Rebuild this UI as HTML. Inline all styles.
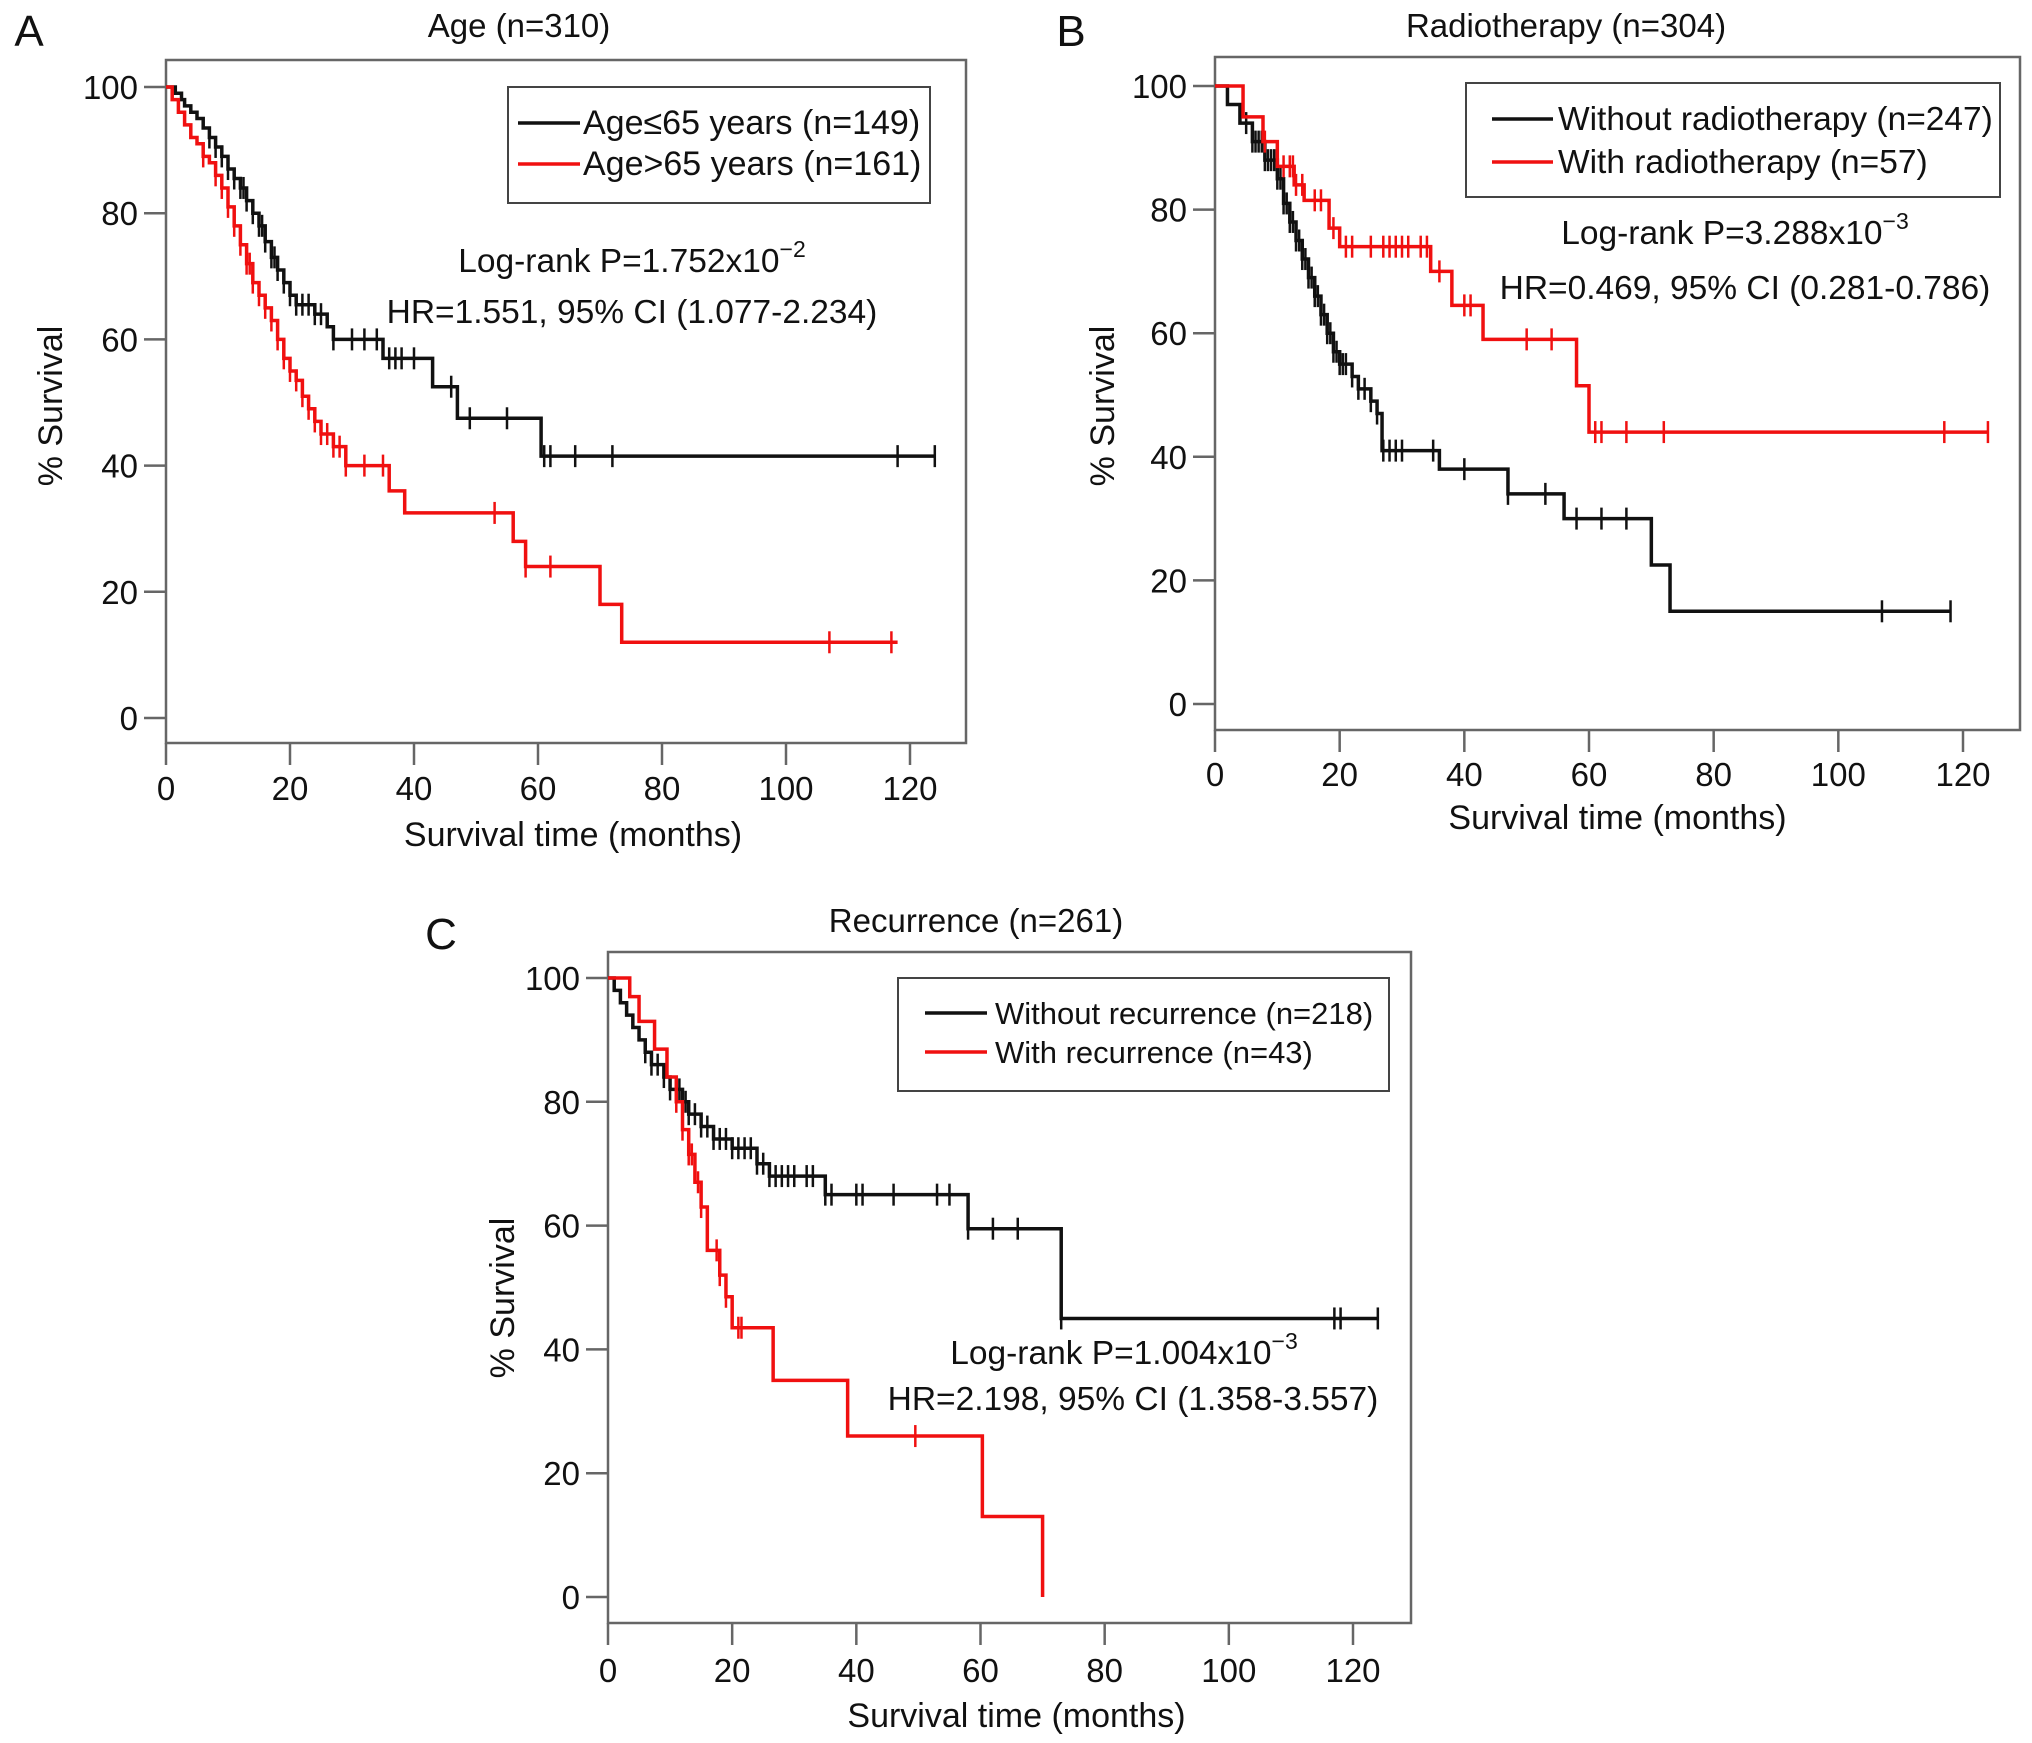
<!DOCTYPE html>
<html><head><meta charset="utf-8"><style>
html,body{margin:0;padding:0;background:#fff;}
svg{display:block;font-family:"Liberation Sans",Arial,sans-serif;}
</style></head><body>
<svg id="fig" width="2032" height="1743" viewBox="0 0 2032 1743" xmlns="http://www.w3.org/2000/svg"></svg>
<script>
// ---- Panel A data ----
const aBlackT=[0,1.5,2.5,3,4,5,6,7,8,9,10,11,12,13,14,15,16,17,18,19,20,21,24,26,27,35,43,47,60.5];
const aBlackS=[100,99,98,97,96,95,93.5,92,90.5,89,87,85.5,84,82,80,78,75.5,73,71,69,67,65.5,64,62,60,57,52.5,47.5,41.5];
const aBlackEnd=124;
const aBlackC=[7,8,9,10,11,12,12.5,13,14,15,15.5,16,17,17.5,18,19,20,21,22,23,24,25,27,30,32,34,36,37,38,40,46,49,55,61,62,66,72,118,124];
const aRedT=[0,1,2,3,4,5,6,7,8,9,10,11,12,13,14,15,16,17,18,19,20,21,22,23,24,25,27,29,36,38.5,56,58,70,73.5];
const aRedS=[100,98,96,94,92,91,89,88,86,84,81,78,75,72,69,67,65,63,60,57,55,53.5,51,49,47,45,43,40,36,32.5,28,24,18,12];
const aRedEnd=118;
const aRedC=[6,8,9,10,11,12,13,13.5,14,15,16,17,18,19,20,21,22,23,24,25,26,27,28,29,32,35,53,58,62,107,117];
// ---- Panel B data ----
const bBlackT=[0,2,4,6,8,10,11,12,13,14,15,16,17,18,19,20,22,23,25,26,26.8,36,47,56,70,73];
const bBlackS=[100,97,94,91,88,85,81,78,75,72,69,66,63,60,57,55,53,51,49,47,41,38,34,30,22.5,15];
const bBlackEnd=118;
const bBlackC=[5,6,6.5,7,7.5,8,8.5,9,9.5,10,10.5,11,11.5,12,12.5,13,13.5,14,14.5,15,15.5,16,16.5,17,17.5,18,18.5,19,19.5,20,20.5,21,22,23,24,25,26,27,28,29,30,35,40,47,53,58,62,66,107,118];
const bRedT=[0,4.5,7.7,10,12.7,14.3,18.3,20,34.6,38,43,58,60];
const bRedS=[100,95,91,87,84,81.5,77,74,70,64.5,59,51.5,44];
const bRedEnd=124;
const bRedC=[8,11,12,12.5,13,14,16,17,19,21,22,25,27,28,29,30,31,33,34,36,40,41,50,54,61,62,66,72,117,124];
// ---- Panel C data ----
const cBlackT=[0,1,2,3,4,5,6,7,9,10,12,13,15,17,20,24,26,35,58,73];
const cBlackS=[100,98,96,94,92,90,88,86,84,82,80,78,76,74,72.5,70,68,65,59.5,45];
const cBlackEnd=124;
const cBlackC=[6,7,8,9,10,11,11.5,12,12.5,13,14,15,16,17,18,19,20,21,22,23,24,25,26,27,28,29,30,32,33,35,36,40,41,46,53,55,58,62,66,73,117,118,124];
const cRedT=[0,3.5,5,7.5,9.5,11,12,13,14,15,16,18,19,20,26.6,38.6,60.3,70];
const cRedS=[100,97,93,88.5,84,80,75.5,71.5,67,63,56,52,48.5,43.5,35,26,13,0];
const cRedEnd=70;
const cRedC=[11,12,13,13.5,14.5,15,17.5,18,19,21,21.5,49.5];
// ---- ticks ----
const xTicks=[0,20,40,60,80,100,120];
const yTicks=[0,20,40,60,80,100];

const NS="http://www.w3.org/2000/svg";
const svg=document.getElementById('fig');
function mk(tag,attrs,parent,name,inter){
  const e=document.createElementNS(NS,tag);
  for(const k in attrs) e.setAttribute(k,attrs[k]);
  
  
  (parent||svg).appendChild(e);return e;
}
function txt(x,y,s,size,anchor,parent,name,extra){
  const t=mk('text',Object.assign({x:x,y:y,'font-size':size,'text-anchor':anchor||'middle',fill:'#111'},extra||{}),parent,name,false);
  t.textContent=s;return t;
}
function panel(p){
  const g=mk('g',{},svg,p.id,false);
  const X=v=>p.x0+(p.x120-p.x0)*v/120;
  const Y=v=>p.y0+(p.y100-p.y0)*v/100;
  mk('rect',{x:p.box[0],y:p.box[1],width:p.box[2]-p.box[0],height:p.box[3]-p.box[1],fill:'none',stroke:'#666','stroke-width':2.5},g,'plot-frame',false);
  xTicks.forEach(v=>{
    mk('line',{x1:X(v),x2:X(v),y1:p.box[3],y2:p.box[3]+22,stroke:'#666','stroke-width':2.5},g,'x-tick',false);
    txt(X(v),p.xlab,String(v),33,'middle',g,'x-tick-label');
  });
  yTicks.forEach(v=>{
    mk('line',{x1:p.box[0]-22,x2:p.box[0],y1:Y(v),y2:Y(v),stroke:'#666','stroke-width':2.5},g,'y-tick',false);
    txt(p.box[0]-28,Y(v)+12,String(v),33,'end',g,'y-tick-label');
  });
  txt((p.box[0]+p.box[2])/2+p.xtOff,p.xtitle,'Survival time (months)',34,'middle',g,'x-axis-title');
  txt(p.ytx,p.yty,'% Survival',34,'middle',g,'y-axis-title',{transform:'rotate(-90 '+p.ytx+' '+p.yty+')'});
  txt(p.title[0],p.title[1],p.title[2],33,'middle',g,'panel-title');
  txt(p.letter[0],p.letter[1],p.letter[2],44,'middle',g,'panel-letter');
  p.series.forEach(s=>{
    let d='M'+X(s.t[0])+','+Y(s.s[0]);
    for(let i=1;i<s.t.length;i++){d+=' H'+X(s.t[i])+' V'+Y(s.s[i]);}
    d+=' H'+X(s.end);
    mk('path',{d:d,fill:'none',stroke:s.col,'stroke-width':3.5},g,s.name+'-curve',false);
    s.c.forEach(ct=>{
      let sv=s.s[0];
      for(let i=0;i<s.t.length;i++){if(s.t[i]<=ct) sv=s.s[i];}
      mk('line',{x1:X(ct),x2:X(ct),y1:Y(sv)-11,y2:Y(sv)+11,stroke:s.col,'stroke-width':2.5},g,s.name+'-censor-mark',false);
    });
  });
  const L=p.legend;
  mk('rect',{x:L.box[0],y:L.box[1],width:L.box[2]-L.box[0],height:L.box[3]-L.box[1],fill:'#fff',stroke:'#444','stroke-width':2},g,'legend-box',false);
  L.rows.forEach((r,i)=>{
    mk('line',{x1:L.lx1,x2:L.lx2,y1:r.y,y2:r.y,stroke:r.col,'stroke-width':3.5},g,'legend-swatch',false);
    txt(L.tx,r.y+11,r.label,L.fs,'start',g,'legend-entry');
  });
  p.annot.forEach((a,i)=>{
    const t=txt(a.x,a.y,'',33.5,'middle',g,i===0?'logrank-p-value':'hazard-ratio');
    if(a.sup){
      const s1=document.createElementNS(NS,'tspan');s1.textContent=a.s;t.appendChild(s1);
      const s2=document.createElementNS(NS,'tspan');s2.textContent=a.sup;
      s2.setAttribute('dy','-15');s2.setAttribute('font-size','23');t.appendChild(s2);
    } else t.textContent=a.s;
  });
}
panel({id:'panel-a-age',box:[166,60,966,743],x0:166,x120:910,y100:87,y0:718,xlab:800,xtitle:846,xtOff:7,ytx:62,yty:406,
  title:[519,37,'Age (n=310)'],letter:[29,46,'A'],
  series:[{name:'age-le-65',t:aBlackT,s:aBlackS,end:aBlackEnd,c:aBlackC,col:'#111'},{name:'age-gt-65',t:aRedT,s:aRedS,end:aRedEnd,c:aRedC,col:'#f01010'}],
  legend:{box:[508,87,930,203],lx1:518,lx2:580,tx:583,fs:34,rows:[{y:123,col:'#111',label:'Age≤65 years (n=149)'},{y:164,col:'#f01010',label:'Age>65 years (n=161)'}]},
  annot:[{x:632,y:272,s:'Log-rank P=1.752x10',sup:'−2'},{x:632,y:323,s:'HR=1.551, 95% CI (1.077-2.234)'}]});
panel({id:'panel-b-radiotherapy',box:[1215,57,2020,730],x0:1215,x120:1963,y100:86,y0:704,xlab:786,xtitle:829,xtOff:0,ytx:1114,yty:406,
  title:[1566,37,'Radiotherapy (n=304)'],letter:[1071,46,'B'],
  series:[{name:'without-radiotherapy',t:bBlackT,s:bBlackS,end:bBlackEnd,c:bBlackC,col:'#111'},{name:'with-radiotherapy',t:bRedT,s:bRedS,end:bRedEnd,c:bRedC,col:'#f01010'}],
  legend:{box:[1466,83,2000,197],lx1:1492,lx2:1553,tx:1558,fs:33.5,rows:[{y:119,col:'#111',label:'Without radiotherapy (n=247)'},{y:162,col:'#f01010',label:'With radiotherapy (n=57)'}]},
  annot:[{x:1735,y:244,s:'Log-rank P=3.288x10',sup:'−3'},{x:1745,y:299,s:'HR=0.469, 95% CI (0.281-0.786)'}]});
panel({id:'panel-c-recurrence',box:[608,952,1411,1623],x0:608,x120:1353,y100:978,y0:1597,xlab:1682,xtitle:1727,xtOff:7,ytx:514,yty:1298,
  title:[976,932,'Recurrence (n=261)'],letter:[441,949,'C'],
  series:[{name:'without-recurrence',t:cBlackT,s:cBlackS,end:cBlackEnd,c:cBlackC,col:'#111'},{name:'with-recurrence',t:cRedT,s:cRedS,end:cRedEnd,c:cRedC,col:'#f01010'}],
  legend:{box:[898,978,1389,1091],lx1:925,lx2:987,tx:995,fs:31,rows:[{y:1013,col:'#111',label:'Without recurrence (n=218)'},{y:1052,col:'#f01010',label:'With recurrence (n=43)'}]},
  annot:[{x:1124,y:1364,s:'Log-rank P=1.004x10',sup:'−3'},{x:1133,y:1410,s:'HR=2.198, 95% CI (1.358-3.557)'}]});
</script>
</body></html>
